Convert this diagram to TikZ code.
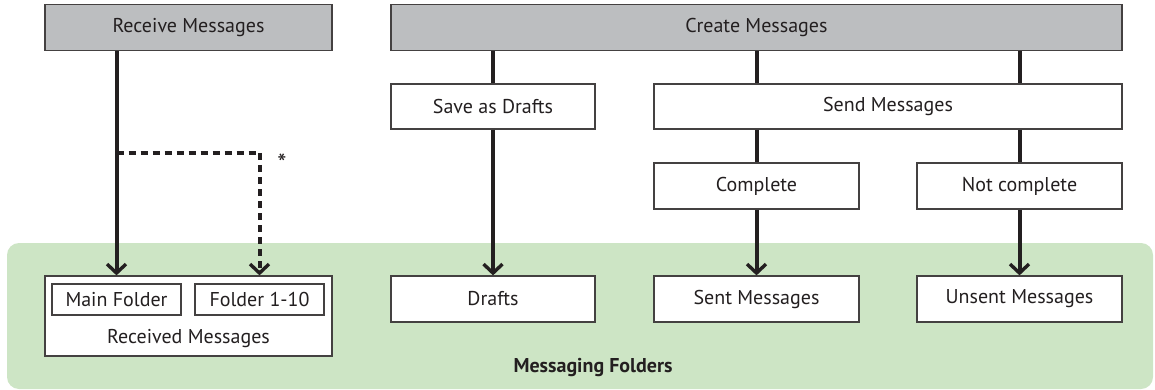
\documentclass[tikz,border=0pt]{standalone}
\usepackage{fontspec}
\setmainfont{PT Sans}
\usetikzlibrary{arrows.meta}
\definecolor{boxgray}{HTML}{BCBEC0}
\definecolor{greenbg}{HTML}{CDE5C5}
\definecolor{ink}{HTML}{231F20}
\begin{document}
\begin{tikzpicture}[x=1pt,y=-1pt,
  txt/.style={font=\fontsize{20}{22}\selectfont,text=ink},
  stepbox/.style={draw=ink!85,line width=1.2pt,fill=white,inner sep=0pt,txt},
  headbox/.style={stepbox,fill=boxgray},
  conn/.style={draw=ink,line width=4pt},
  arr/.style={conn,-{Straight Barb[length=9pt,width=19pt,line width=3.4pt]}},
  darr/.style={arr,dash pattern=on 7pt off 5pt}]
\useasboundingbox (0,0) rectangle (1155,390);
\fill[greenbg,rounded corners=12pt] (7,243) rectangle (1153,389);
\node[txt,font=\bfseries\fontsize{20}{22}\selectfont] (mf) at (593,368) {Messaging Folders};
% top row
\node[headbox,minimum width=287pt,minimum height=46pt] (recv) at (188.5,27.5) {Receive Messages};
\node[headbox,minimum width=731pt,minimum height=46pt] (create) at (756.5,27.5) {Create Messages};
% second row
\node[stepbox,minimum width=204pt,minimum height=45pt] (save) at (493,106.5) {Save as Drafts};
\node[stepbox,minimum width=468pt,minimum height=45pt] (send) at (888,106.5) {Send Messages};
% third row
\node[stepbox,minimum width=205pt,minimum height=46pt] (complete) at (756.5,186) {Complete};
\node[stepbox,minimum width=205pt,minimum height=46pt] (notc) at (1019.5,186) {Not complete};
% folders
\node[stepbox,minimum width=287pt,minimum height=80pt] (recvd) at (188.5,316) {};
\node[stepbox,minimum width=129pt,minimum height=31pt] (main) at (116.5,299.5) {Main Folder};
\node[stepbox,minimum width=129pt,minimum height=31pt] (f110) at (259.5,299.5) {Folder 1-10};
\node[txt] (rmtext) at (188.5,339) {Received Messages};
\node[stepbox,minimum width=204pt,minimum height=46pt] (drafts) at (493,299) {Drafts};
\node[stepbox,minimum width=205pt,minimum height=46pt] (sent) at (756.5,299) {Sent Messages};
\node[stepbox,minimum width=205pt,minimum height=46pt] (unsent) at (1019.5,299) {Unsent Messages};
% connectors
\coordinate (dj) at (116.5,153);
\coordinate (dc) at (259.5,153);
\draw[arr] (recv.south -| main) -- (main |- recvd.north);
\draw[conn,dash pattern=on 7pt off 5pt] (dj) -- (dc);
\draw[darr] (dc) -- (f110 |- recvd.north);
\node[txt,font=\fontsize{26}{28}\selectfont] (ast) at (282,163) {*};
\draw[conn] (create.south -| save) -- (save.north);
\draw[conn] (create.south -| complete) -- (send.north -| complete);
\draw[conn] (create.south -| notc) -- (send.north -| notc);
\draw[conn] (send.south -| complete) -- (complete.north);
\draw[conn] (send.south -| notc) -- (notc.north);
\draw[arr] (save.south) -- (drafts.north);
\draw[arr] (complete.south) -- (sent.north);
\draw[arr] (notc.south) -- (unsent.north);
\end{tikzpicture}
\end{document}
